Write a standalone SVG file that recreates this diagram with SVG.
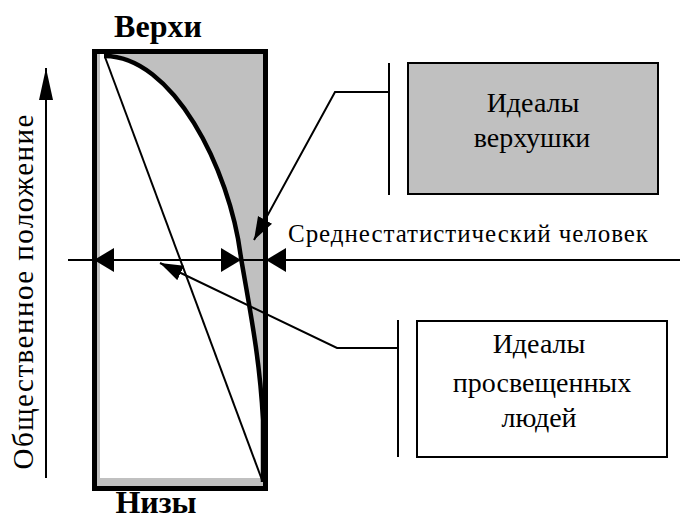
<svg xmlns="http://www.w3.org/2000/svg" width="699" height="528" viewBox="0 0 699 528">
<style>
.t{font-family:"Liberation Serif","Times New Roman",serif;fill:#000}
.b{font-weight:bold;font-size:32px}
.ln{stroke:#000;stroke-width:2;fill:none}
.box{stroke:#000;stroke-width:2}
</style>
<defs>
<marker id="bigL" markerUnits="userSpaceOnUse" markerWidth="24" markerHeight="26" refX="20" refY="12" orient="auto">
<path d="M0,0 L20,12 L0,24 Z" fill="#000"/>
</marker>
<marker id="conn" markerUnits="userSpaceOnUse" markerWidth="26" markerHeight="18" refX="23" refY="8" orient="auto">
<path d="M0,0 L23,8 L0,16 Z" fill="#000"/>
</marker>
<marker id="axis" markerUnits="userSpaceOnUse" markerWidth="34" markerHeight="16" refX="32" refY="7" orient="auto">
<path d="M0,0 L32,7 L0,14 Z" fill="#000"/>
</marker>
</defs>
<rect width="699" height="528" fill="#fff"/>

<g id="pyramid">
<rect x="94.5" y="51.5" width="171" height="437" fill="#c0c0c0" stroke="none"/>
<path d="M100,54 L106,54 C172,55 230,168 241,258 C250,310 260,360 263,420 L263,478 L100,478 Z" fill="#fff"/>
<path d="M104,56 C172,55 230,168 241,258 C250,310 260,360 263,420 L263,482" fill="none" stroke="#000" stroke-width="4.5"/>
<line x1="105" y1="57" x2="262" y2="480" stroke="#000" stroke-width="2"/>
<rect x="94.5" y="51.5" width="171" height="437" fill="none" stroke="#000" stroke-width="5"/>
<text class="t b" x="158" y="37" text-anchor="middle">Верхи</text>
<text class="t b" x="156" y="513" text-anchor="middle">Низы</text>
</g>

<g id="axis-label">
<text class="t" font-size="29" transform="translate(33,292) rotate(-90)" text-anchor="middle" textLength="355" lengthAdjust="spacing">Общественное положение</text>
</g>

<g id="avg-label">
<text class="t" font-size="25" x="288" y="242" textLength="360" lengthAdjust="spacing">Среднестатистический человек</text>
</g>

<g id="elite">
<rect class="box" x="408" y="63" width="250" height="131" fill="#c0c0c0"/>
<text class="t" font-size="28" text-anchor="middle"><tspan x="533" y="112">Идеалы</tspan><tspan x="532" y="147">верхушки</tspan></text>
</g>

<g id="enlightened">
<rect class="box" x="417" y="321" width="250" height="136" fill="#fff"/>
<text class="t" font-size="28" text-anchor="middle"><tspan x="539" y="353">Идеалы</tspan><tspan x="542" y="392">просвещенных</tspan><tspan x="539" y="427">людей</tspan></text>
</g>

<g id="connectors">
<line class="ln" x1="46" y1="478" x2="46" y2="68" marker-end="url(#axis)"/>
<line class="ln" x1="68" y1="260" x2="680" y2="260"/>
<line class="ln" x1="120" y1="260" x2="94" y2="260" marker-end="url(#bigL)"/>
<line class="ln" x1="215" y1="260" x2="241" y2="260" marker-end="url(#bigL)"/>
<line class="ln" x1="292" y1="260" x2="266" y2="260" marker-end="url(#bigL)"/>
<line class="ln" x1="389" y1="63" x2="389" y2="195"/>
<path class="ln" d="M389,92 L335,92 L254,240" marker-end="url(#conn)"/>
<line class="ln" x1="398" y1="320" x2="398" y2="457"/>
<path class="ln" d="M398,348 L337,348 L160,263" marker-end="url(#conn)"/>
</g>
</svg>
